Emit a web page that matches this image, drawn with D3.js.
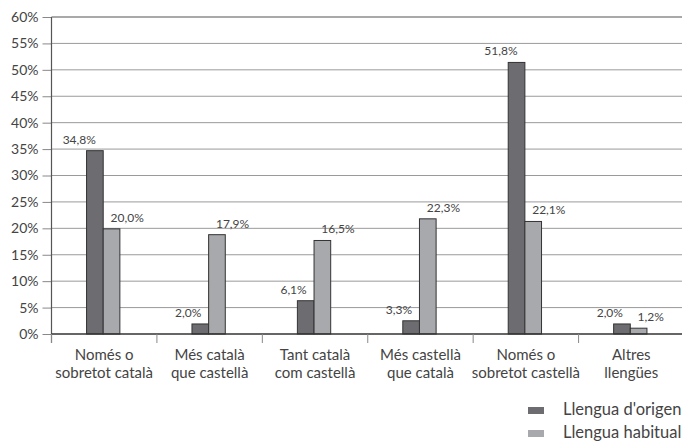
<!DOCTYPE html>
<html><head><meta charset="utf-8">
<script src="https://cdn.jsdelivr.net/npm/d3@7"></script>
<style>body{margin:0;background:#fff}svg{display:block}text{font-family:Lato,"Open Sans",sans-serif;fill:#444}</style>
</head><body><svg id="c" width="682" height="443"></svg>
<script>
const categories = [["Només o","sobretot català"],["Més català","que castellà"],["Tant català","com castellà"],["Més castellà","que català"],["Només o","sobretot castellà"],["Altres","llengües"]];
const origenValues = [34.7, 1.9, 6.3, 2.5, 51.4, 1.9];
const habitualValues = [19.9, 18.8, 17.7, 21.8, 21.3, 1.1];
const origenLabels = ["34,8%","2,0%","6,1%","3,3%","51,8%","2,0%"];
const habitualLabels = ["20,0%","17,9%","16,5%","22,3%","22,1%","1,2%"];
const yTicks = [0,5,10,15,20,25,30,35,40,45,50,55,60];
const seriesNames = ["Llengua d'origen","Llengua habitual"];
const colors = ["#6d6d71","#a8a9ac"];

const svg = d3.select("#c");
const L = 51.5, R = 684, T = 17, B = 334;
const x = d3.scaleBand().domain(d3.range(categories.length)).range([L, R]);
const y = d3.scaleLinear().domain([0, 60]).range([B, T]);
const bw = x.bandwidth() * 0.158;

// gridlines
svg.append("g").selectAll("line").data(yTicks.filter(d => d > 0 && d < 60)).join("line")
  .attr("x1", L).attr("x2", 682).attr("y1", d => y(d)).attr("y2", d => y(d))
  .attr("stroke", "#9a9a9a").attr("stroke-width", 1);
svg.append("line").attr("x1", L).attr("x2", 682).attr("y1", y(60)).attr("y2", y(60)).attr("stroke", "#555").attr("stroke-width", 1.2);

// y axis
const yAxis = svg.append("g").attr("transform", `translate(${L},0)`)
  .call(d3.axisLeft(y).tickValues(yTicks).tickFormat(d => d + "%").tickSize(9).tickPadding(4));
yAxis.select(".domain").remove();
yAxis.selectAll(".tick line").attr("stroke", "#888");
yAxis.selectAll("text").attr("font-size", 14).attr("fill", "#4a4a4a").attr("font-weight", 400).attr("font-family", "Lato");
svg.append("line").attr("x1", L).attr("x2", L).attr("y1", T).attr("y2", B + 9).attr("stroke", "#555").attr("stroke-width", 1.2);

// bars
const g = svg.append("g");
const cx = i => x(i) + x.bandwidth() / 2 - 1;
g.selectAll(".o").data(origenValues).join("rect")
  .attr("x", (d, i) => cx(i) - bw).attr("width", bw)
  .attr("y", d => y(d)).attr("height", d => B - y(d))
  .attr("fill", colors[0]).attr("stroke", "#333").attr("stroke-width", 1);
g.selectAll(".h").data(habitualValues).join("rect")
  .attr("x", (d, i) => cx(i)).attr("width", bw)
  .attr("y", d => y(d)).attr("height", d => B - y(d))
  .attr("fill", colors[1]).attr("stroke", "#333").attr("stroke-width", 1);

// value labels
g.selectAll(".ol").data(origenValues).join("text")
  .attr("x", (d, i) => cx(i) - bw / 2 + 1).attr("y", d => y(d) - 7)
  .attr("text-anchor", "end").attr("font-size", 12).attr("font-weight", 400).attr("fill", "#555")
  .text((d, i) => origenLabels[i]);
g.selectAll(".hl").data(habitualValues).join("text")
  .attr("x", (d, i) => cx(i) + bw / 2 - 1).attr("y", d => y(d) - 7)
  .attr("text-anchor", "start").attr("font-size", 12).attr("font-weight", 400).attr("fill", "#555")
  .text((d, i) => habitualLabels[i]);

// x axis
svg.append("line").attr("x1", L).attr("x2", 682).attr("y1", B).attr("y2", B).attr("stroke", "#333").attr("stroke-width", 1.5);
svg.append("g").selectAll("line").data(d3.range(categories.length)).join("line")
  .attr("x1", d => x(d)).attr("x2", d => x(d)).attr("y1", B).attr("y2", B + 9)
  .attr("stroke", "#888");
const cl = svg.append("g").selectAll("text").data(categories).join("text")
  .attr("x", (d, i) => x(i) + x.bandwidth() / 2).attr("text-anchor", "middle")
  .attr("font-size", 15).attr("font-weight", 400).attr("fill", "#4a4a4a");
cl.selectAll("tspan").data(d => d).join("tspan")
  .attr("x", function() { return this.parentNode.getAttribute("x"); })
  .attr("y", (d, j) => 360 + j * 18).text(d => d);

// legend
const lg = svg.append("g").selectAll("g").data(seriesNames).join("g")
  .attr("transform", (d, i) => `translate(528,${407 + i * 23})`);
lg.append("rect").attr("width", 16).attr("height", 7).attr("fill", (d, i) => colors[i]);
lg.append("text").attr("x", 35).attr("y", 7.5).attr("font-size", 16.5).attr("font-weight", 400).attr("fill", "#4a4a4a").text(d => d);
</script></body></html>
